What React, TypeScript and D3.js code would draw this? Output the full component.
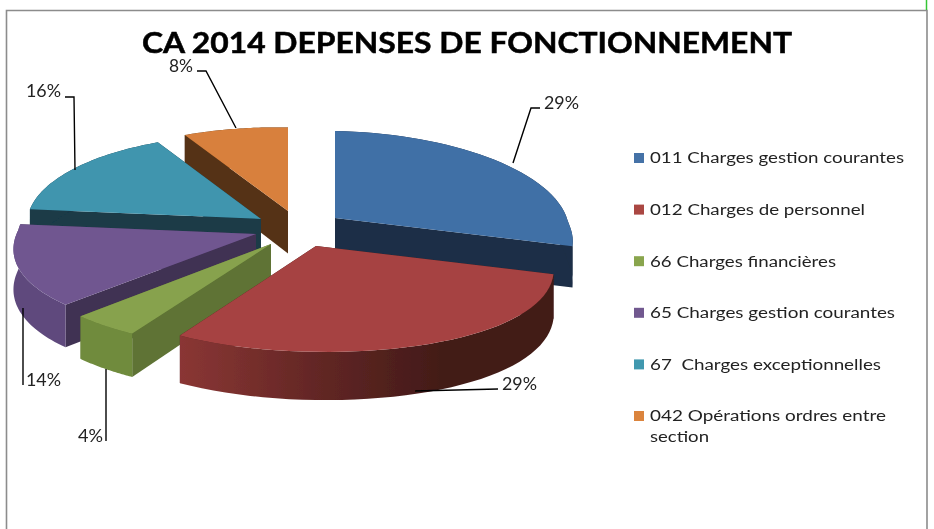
import React from "react";
import * as d3 from "d3";

const title = "CA 2014 DEPENSES DE FONCTIONNEMENT";
const categories = [
  "011 Charges gestion courantes",
  "012 Charges de personnel",
  "66 Charges financières",
  "65 Charges gestion courantes",
  "67  Charges exceptionnelles",
  "042 Opérations ordres entre",
];
const values = [29, 29, 4, 14, 16, 8];
const valueLabels = ["29%", "29%", "4%", "14%", "16%", "8%"];
const legendContinuation = "section";

const topColors = ["#4170a6", "#a64342", "#87a24e", "#6f5790", "#3f95ae", "#d8803c"];
const legendColors = ["#4572a7", "#aa4643", "#89a54e", "#71588f", "#4198af", "#db843d"];
const faceColors = ["#1c2e46", "#431b18", "#5e7334", "#413053", "#1a3a47", "#553216"];
const wallColors = ["#1c2e46", "url(#redWall)", "#6f8b3c", "#5f4a7d", "#1a3a47", "#553216"];

// exploded slice apex positions in pixels
const apexX = [335, 316, 271, 256, 261, 288];
const apexY = [218, 246, 244, 234, 219, 211];
// per-slice corrections to the projected ellipse
const rxScale = [1, 1, 1.02, 1.02, 1, 1];
const ryScale = [1, 1, 1, 0.98, 0.97, 0.96];
const depthScale = [0.95, 1.02, 0.93, 0.93, 1, 1];
// leader polylines, in pixels
const leaders: [number, number][][] = [
  [[513, 163], [531, 108], [540, 108]],
  [[415, 391], [498, 389]],
  [[106, 369], [106, 441]],
  [[23, 308], [23, 385]],
  [[75, 170], [74, 97], [65, 97]],
  [[236, 128], [206, 71], [197, 71]],
];
const labelX = [544, 502, 78, 26, 26, 169];
const labelY = [109, 390, 442, 386, 97, 72];
const labelWidths = [35, 35, 25, 35, 35, 24];
const legendWidths = [254, 215, 186, 245, 231, 236];
const drawOrder = [5, 4, 0, 3, 2, 1];

const RX = 233, RY = 95.5, PX_FRONT = 0.2, PX_BACK = 0.1, PY = 0.098, SHEAR = 4, DEPTH = 42.5;

function rim(i: number, t: number, drop = false): [number, number] {
  const s = Math.sin(t), c = Math.cos(t);
  const px = c < 0 ? PX_FRONT : PX_BACK;
  const x = apexX[i] + (rxScale[i] * RX * s) / (1 + px * c);
  const y = apexY[i] - (ryScale[i] * RY * c) / (1 + PY * c) + SHEAR * s;
  return [x, y + (drop ? (depthScale[i] * DEPTH) / (1 + 0.1 * c) : 0)];
}
const apex = (i: number, drop = false): [number, number] => [
  apexX[i],
  apexY[i] + (drop ? depthScale[i] * DEPTH : 0),
];

export default function App() {
  const arcs = d3.pie<number>().sort(null)(values);
  const line = d3.line();
  const samples = (a: number, b: number) => d3.range(0, 41).map((k) => a + ((b - a) * k) / 40);
  const legendY = d3.scaleLinear().domain([0, 5]).range([158, 416]);

  return (
    <svg
      width={934}
      height={529}
      style={{ position: "absolute", left: 0, top: 0, display: "block", background: "#fff" }}
      fontFamily="Lato, 'Open Sans', sans-serif"
    >
      <defs>
        <linearGradient id="redWall" gradientUnits="userSpaceOnUse" x1={180} x2={440} y1={0} y2={0}>
          <stop offset="0" stopColor="#8a3634" />
          <stop offset="0.55" stopColor="#612624" />
          <stop offset="1" stopColor="#431b18" />
        </linearGradient>
        <filter id="soft" x="-5%" y="-5%" width="110%" height="110%">
          <feGaussianBlur stdDeviation="0.45" />
        </filter>
      </defs>

      <path d="M6.5 529 V10.5 H927 V529" fill="none" stroke="#8c8c8c" strokeWidth={1.6} />
      <line x1={926.5} x2={926.5} y1={0} y2={10} stroke="#35c535" strokeWidth={1.5} />

      <g filter="url(#soft)">
        {drawOrder.map((i) => {
          const a = arcs[i];
          const ts = samples(a.startAngle, a.endAngle);
          const top = [apex(i), ...ts.map((t) => rim(i, t))];
          const wall = [...ts.map((t) => rim(i, t)), ...ts.slice().reverse().map((t) => rim(i, t, true))];
          const face = (t: number) => [apex(i), rim(i, t), rim(i, t, true), apex(i, true)] as [number, number][];
          return (
            <g key={i}>
              <path d={line(face(a.endAngle)) + "Z"} fill={faceColors[i]} />
              <path d={line(face(a.startAngle)) + "Z"} fill={faceColors[i]} />
              <path d={line(wall) + "Z"} fill={wallColors[i]} />
              <path d={line(top) + "Z"} fill={topColors[i]} />
            </g>
          );
        })}
        {leaders.map((pts, i) => (
          <path key={i} d={line(pts) ?? ""} fill="none" stroke="#000" strokeWidth={1.4} />
        ))}
      </g>

      <g filter="url(#soft)" fill="#222">
        <text
          x={142}
          y={53}
          fontSize={28}
          fontWeight={700}
          fill="#000"
          stroke="#000"
          strokeWidth={0.5}
          textLength={650}
          lengthAdjust="spacingAndGlyphs"
        >
          {title}
        </text>
        {valueLabels.map((s, i) => (
          <text
            key={i}
            x={labelX[i]}
            y={labelY[i]}
            fontSize={16.5}
            textLength={labelWidths[i]}
            lengthAdjust="spacingAndGlyphs"
          >
            {s}
          </text>
        ))}
        {categories.map((c, i) => (
          <g key={i}>
            <rect x={634} y={legendY(i) - 5} width={10} height={10} fill={legendColors[i]} />
            <text
              x={650}
              y={legendY(i) + 5.3}
              fontSize={15.5}
              textLength={legendWidths[i]}
              lengthAdjust="spacingAndGlyphs"
              xmlSpace="preserve"
            >
              {c}
            </text>
          </g>
        ))}
        <text x={650} y={442.3} fontSize={15.5} textLength={59} lengthAdjust="spacingAndGlyphs">
          {legendContinuation}
        </text>
      </g>
    </svg>
  );
}
